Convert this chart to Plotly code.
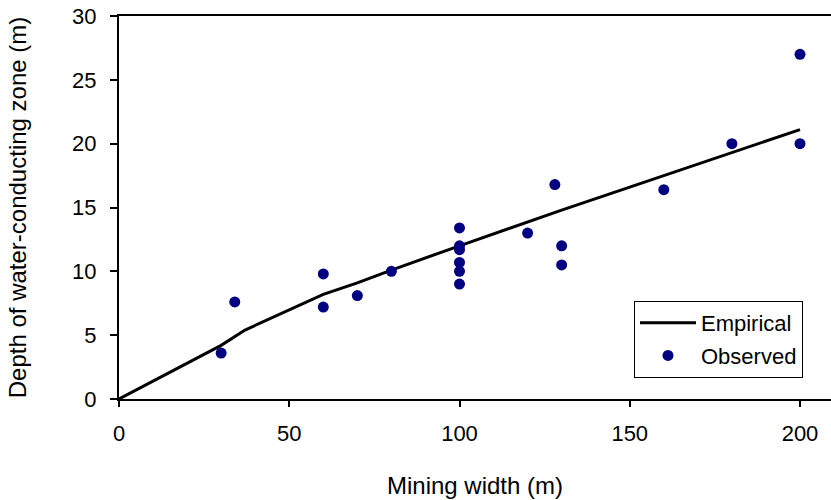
import plotly.graph_objects as go

# Observed data
obs_width = [30, 34, 60, 60, 70, 80, 100, 100, 100, 100, 100, 100, 120, 128, 130, 130, 160, 180, 200, 200]
obs_depth = [3.6, 7.6, 9.8, 7.2, 8.1, 10.0, 13.4, 12.0, 11.7, 10.7, 10.0, 9.0, 13.0, 16.8, 12.0, 10.5, 16.4, 20.0, 27.0, 20.0]

# Empirical curve
emp_width = [0, 12, 25, 30, 37, 50, 60, 70, 80, 100, 130, 150, 200]
emp_depth = [0, 1.7, 3.5, 4.2, 5.4, 7.0, 8.2, 9.1, 10.1, 12.0, 14.8, 16.6, 21.1]

x_ticks = [0, 50, 100, 150, 200]
y_ticks = [0, 5, 10, 15, 20, 25, 30]

FONT = "Liberation Sans, Arial, sans-serif"

L, T, R, B = 119, 16, 831, 399

fig = go.Figure()
fig.add_trace(go.Scatter(
    x=emp_width, y=emp_depth, mode="lines", name="Empirical", legendgroup="a",
    line=dict(color="black", width=3),
))
fig.add_trace(go.Scatter(
    x=obs_width, y=obs_depth, mode="markers", name="Observed", legendgroup="b",
    marker=dict(color="#000080", size=11),
))

fig.update_layout(
    width=831, height=500,
    margin=dict(l=L, r=831 - R, t=T, b=500 - B, autoexpand=False),
    paper_bgcolor="white", plot_bgcolor="white",
    font=dict(family=FONT, size=22, color="black"),
    legend=dict(
        x=(634 - L) / (R - L), y=(B - 301) / (B - T),
        xanchor="left", yanchor="top",
        bordercolor="black", borderwidth=1, bgcolor="white",
        font=dict(size=22), tracegroupgap=1, traceorder="grouped",
        itemwidth=56, entrywidth=150, entrywidthmode="pixels",
    ),
    showlegend=True,
)

fig.update_xaxes(
    range=[0, (R - L) / 3.405], tickvals=x_ticks, ticktext=[str(v) for v in x_ticks],
    showline=True, linecolor="black", linewidth=2, mirror=True,
    ticks="outside", ticklen=6, tickwidth=1.5, tickcolor="black",
    ticklabelstandoff=8,
    showgrid=False, zeroline=False, automargin=False,
    title=dict(text="Mining width (m)", standoff=32, font=dict(size=24)),
)
fig.update_yaxes(
    range=[0, 30], tickvals=y_ticks, ticktext=[str(v) for v in y_ticks],
    showline=True, linecolor="black", linewidth=2,
    ticks="outside", ticklen=7, tickwidth=1.5, tickcolor="black",
    ticklabelstandoff=9,
    showgrid=False, zeroline=False, automargin=False,
    title=dict(text="Depth of water-conducting zone (m)", standoff=39, font=dict(size=24)),
)

fig.write_html("out.html", config={"displayModeBar": False},
               post_script="document.body.style.margin='0px';")
